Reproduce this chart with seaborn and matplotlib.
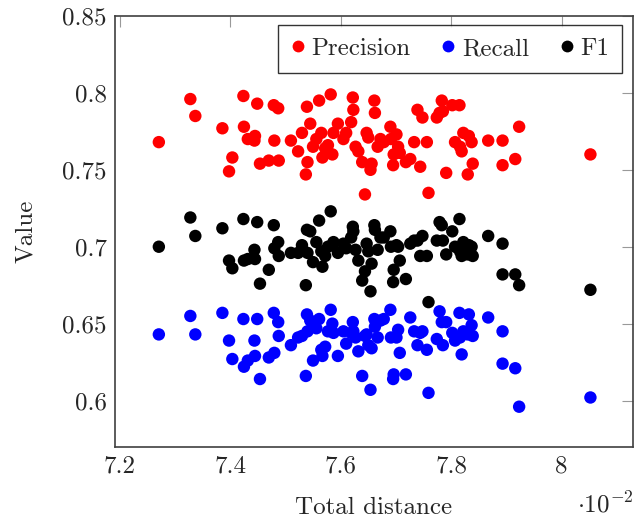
import pandas as pd
import matplotlib
matplotlib.use('Agg')
import matplotlib.pyplot as plt
import seaborn as sns

# 값은 그림에서 읽음 (x 단위: 10^-2)
distance = [7.271, 7.328, 7.337, 7.386, 7.398, 7.404, 7.424, 7.425, 7.432, 7.444,
            7.445, 7.449, 7.454, 7.470, 7.479, 7.487, 7.480, 7.488, 7.510, 7.523,
            7.530, 7.537, 7.539, 7.540, 7.545, 7.550, 7.556, 7.561, 7.565, 7.567,
            7.572, 7.577, 7.582, 7.585, 7.587, 7.595, 7.605, 7.610, 7.619, 7.622,
            7.623, 7.627, 7.632, 7.639, 7.644, 7.647, 7.650, 7.654, 7.656, 7.661,
            7.662, 7.667, 7.672, 7.678, 7.690, 7.691, 7.695, 7.696, 7.701, 7.704,
            7.707, 7.718, 7.726, 7.733, 7.739, 7.744, 7.748, 7.756, 7.759, 7.774,
            7.779, 7.783, 7.785, 7.791, 7.802, 7.807, 7.815, 7.816, 7.819, 7.822,
            7.832, 7.830, 7.837, 7.839, 7.867, 7.893, 7.893, 7.916, 7.923, 8.052]
precision = [0.768, 0.796, 0.785, 0.777, 0.749, 0.758, 0.798, 0.778, 0.770, 0.769,
             0.772, 0.793, 0.754, 0.756, 0.792, 0.790, 0.769, 0.756, 0.769, 0.762,
             0.774, 0.747, 0.791, 0.755, 0.780, 0.765, 0.770, 0.795, 0.774, 0.758,
             0.764, 0.766, 0.799, 0.760, 0.774, 0.780, 0.770, 0.774, 0.781, 0.797,
             0.789, 0.765, 0.762, 0.755, 0.734, 0.774, 0.771, 0.750, 0.754, 0.795,
             0.787, 0.765, 0.770, 0.768, 0.778, 0.770, 0.753, 0.760, 0.773, 0.765,
             0.761, 0.755, 0.757, 0.768, 0.789, 0.752, 0.784, 0.768, 0.735, 0.784,
             0.787, 0.795, 0.788, 0.748, 0.792, 0.768, 0.792, 0.765, 0.762, 0.774,
             0.772, 0.747, 0.768, 0.754, 0.769, 0.769, 0.753, 0.757, 0.778, 0.760]
recall = [0.643, 0.655, 0.643, 0.657, 0.639, 0.627, 0.653, 0.622, 0.626, 0.639,
          0.629, 0.653, 0.614, 0.628, 0.657, 0.651, 0.631, 0.642, 0.636, 0.641,
          0.642, 0.616, 0.656, 0.645, 0.652, 0.626, 0.647, 0.653, 0.633, 0.629,
          0.635, 0.645, 0.659, 0.650, 0.644, 0.629, 0.645, 0.637, 0.644, 0.651,
          0.645, 0.641, 0.632, 0.616, 0.642, 0.643, 0.636, 0.607, 0.634, 0.653,
          0.648, 0.641, 0.652, 0.653, 0.659, 0.641, 0.614, 0.617, 0.641, 0.646,
          0.631, 0.617, 0.654, 0.645, 0.636, 0.644, 0.645, 0.633, 0.605, 0.640,
          0.658, 0.651, 0.636, 0.651, 0.644, 0.639, 0.657, 0.641, 0.630, 0.645,
          0.656, 0.643, 0.649, 0.642, 0.654, 0.645, 0.624, 0.621, 0.596, 0.602]
f1 = [0.700, 0.719, 0.707, 0.712, 0.691, 0.686, 0.718, 0.691, 0.692, 0.698,
      0.692, 0.716, 0.676, 0.685, 0.714, 0.703, 0.699, 0.694, 0.696, 0.696,
      0.701, 0.675, 0.711, 0.696, 0.710, 0.690, 0.703, 0.717, 0.697, 0.687,
      0.694, 0.700, 0.723, 0.701, 0.703, 0.696, 0.702, 0.699, 0.706, 0.713,
      0.710, 0.698, 0.691, 0.678, 0.684, 0.702, 0.697, 0.671, 0.689, 0.714,
      0.711, 0.698, 0.706, 0.706, 0.710, 0.700, 0.677, 0.685, 0.701, 0.700,
      0.691, 0.679, 0.702, 0.704, 0.704, 0.694, 0.707, 0.694, 0.664, 0.704,
      0.716, 0.714, 0.704, 0.695, 0.710, 0.700, 0.718, 0.697, 0.694, 0.703,
      0.701, 0.695, 0.700, 0.694, 0.707, 0.702, 0.682, 0.682, 0.675, 0.672]

metrics = ['Precision', 'Recall', 'F1']
colors = ['red', 'blue', 'black']
xticks = [7.2, 7.4, 7.6, 7.8, 8.0]
xticklabels = ['7.2', '7.4', '7.6', '7.8', '8']
yticks = [0.6, 0.65, 0.7, 0.75, 0.8, 0.85]
yticklabels = ['0.6', '0.65', '0.7', '0.75', '0.8', '0.85']

df = pd.concat([
    pd.DataFrame({'distance': distance, 'value': precision, 'metric': 'Precision'}),
    pd.DataFrame({'distance': distance, 'value': recall, 'metric': 'Recall'}),
    pd.DataFrame({'distance': distance, 'value': f1, 'metric': 'F1'}),
], ignore_index=True)

sns.set_style('white')
plt.rcParams['font.family'] = ['cmr10', 'DejaVu Serif']
plt.rcParams['mathtext.fontset'] = 'cm'
plt.rcParams['axes.unicode_minus'] = False
plt.rcParams['font.size'] = 18

fig = plt.figure(figsize=(6.42, 5.19), dpi=100)
ax = fig.add_axes([0.179, 0.1393, 0.8065, 0.8299])

sns.scatterplot(data=df, x='distance', y='value', hue='metric', hue_order=metrics,
                palette=colors, s=80, linewidth=0, ax=ax)

ax.set_xlim(7.1915, 8.1285)
ax.set_ylim(0.570, 0.85)
ax.set_xticks(xticks)
ax.set_xticklabels(xticklabels)
ax.set_yticks(yticks)
ax.set_yticklabels(yticklabels)
ax.tick_params(direction='in', length=8, width=0.8, color='#999999',
               top=True, right=True, labelsize=18, pad=6)
for sp in ax.spines.values():
    sp.set_color('#404040')
    sp.set_linewidth(1.2)

ax.set_xlabel('Total distance', fontsize=18, labelpad=14)
ax.set_ylabel('Value', fontsize=18, labelpad=18)
fig.text(0.986, 0.028, r'$\cdot 10^{-2}$', ha='right', va='center', fontsize=18)

leg = ax.legend(loc='upper right', bbox_to_anchor=(0.979, 0.979), borderaxespad=0,
                ncol=3, frameon=True, fancybox=False, edgecolor='black',
                handlelength=0.6, handletextpad=0.25, columnspacing=1.2,
                borderpad=0.5, fontsize=18, markerscale=0.95)
leg.get_frame().set_linewidth(1.0)

fig.savefig('out.png', dpi=100)
